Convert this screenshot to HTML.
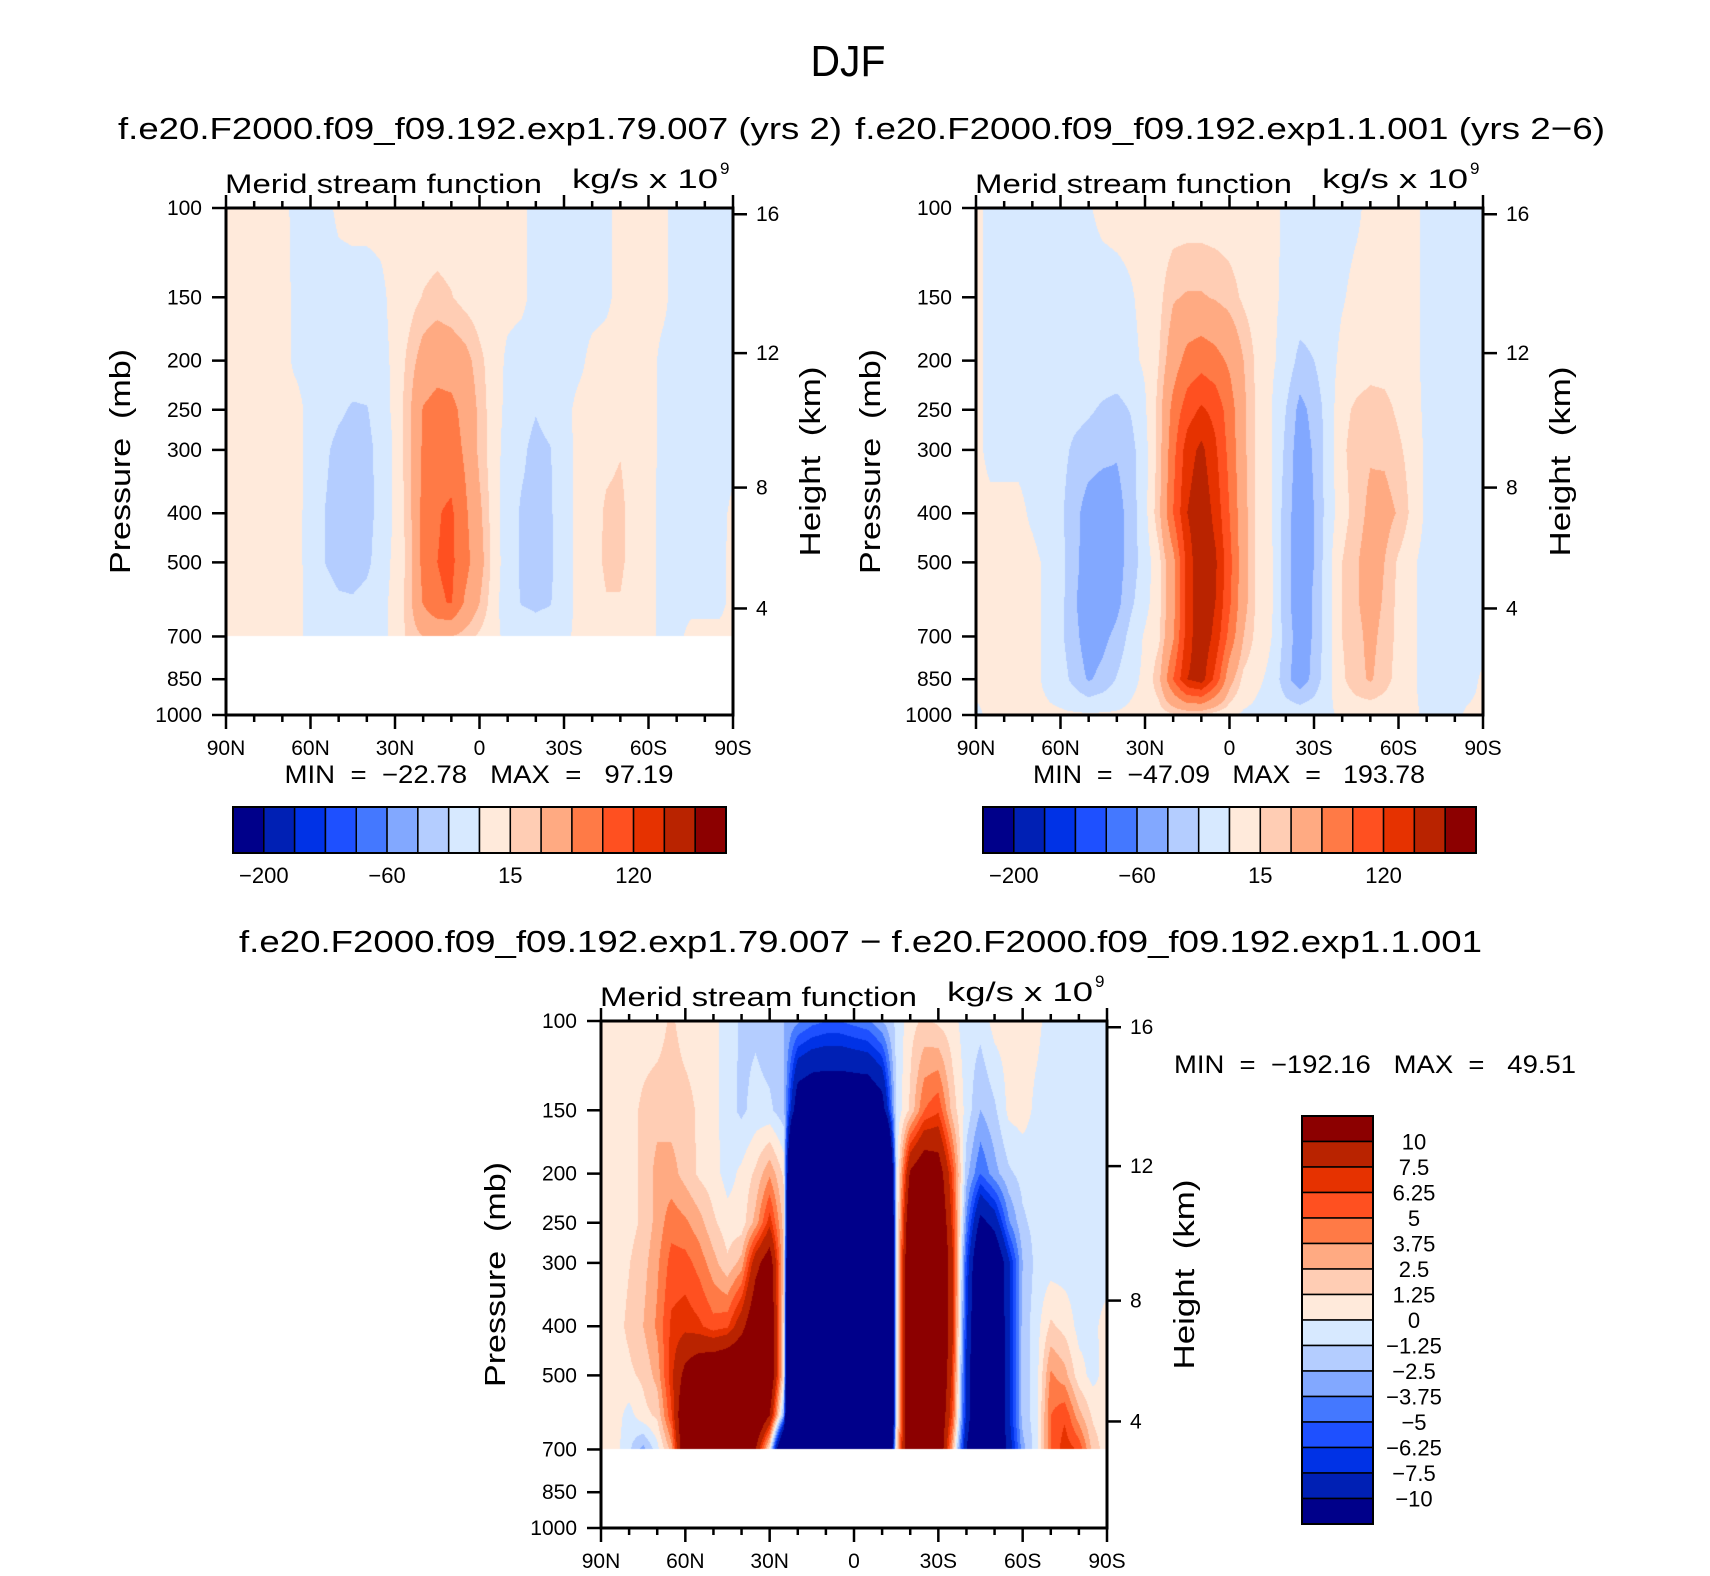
<!DOCTYPE html>
<html><head><meta charset="utf-8">
<style>
html,body{margin:0;padding:0;background:#fff;}
#wrap{position:relative;width:1710px;height:1576px;overflow:hidden;background:#fff;font-family:"Liberation Sans",sans-serif;}
canvas{position:absolute;}
svg{position:absolute;left:0;top:0;}
</style></head>
<body>
<div id="wrap">
<canvas id="cTL"></canvas>
<canvas id="cTR"></canvas>
<canvas id="cB"></canvas>
<svg id="ov" width="1710" height="1576" font-family="Liberation Sans, sans-serif">
<text x="848" y="76" font-size="44" text-anchor="middle" textLength="75" lengthAdjust="spacingAndGlyphs">DJF</text>
<text x="118" y="139" font-size="31" textLength="724" lengthAdjust="spacingAndGlyphs">f.e20.F2000.f09_f09.192.exp1.79.007&#160;(yrs&#160;2)</text>
<text x="855" y="139" font-size="31" textLength="750" lengthAdjust="spacingAndGlyphs">f.e20.F2000.f09_f09.192.exp1.1.001&#160;(yrs&#160;2−6)</text>
<text x="239" y="952" font-size="31" textLength="1243" lengthAdjust="spacingAndGlyphs">f.e20.F2000.f09_f09.192.exp1.79.007&#160;−&#160;f.e20.F2000.f09_f09.192.exp1.1.001</text>
</svg>
</div>
<script>
// ---- shared data ----
const latTickLabels = ["90N","60N","30N","0","30S","60S","90S"];
const pressureTicks = [100,150,200,250,300,400,500,700,850,1000];
const heightTicksKm = [4,8,12,16];
const topLevels = [-200,-150,-120,-90,-60,-30,-15,0,15,30,60,90,120,150,200];
const topLevelLabels = ["-200","-60","15","120"];
const topLabelIdx = [0,4,8,12];
const diffLevels = [-10,-7.5,-6.25,-5,-3.75,-2.5,-1.25,0,1.25,2.5,3.75,5,6.25,7.5,10];
const diffLevelLabels = ["10","7.5","6.25","5","3.75","2.5","1.25","0","−1.25","−2.5","−3.75","−5","−6.25","−7.5","−10"];
const palette = ["#00008a","#0020b4","#0032e6","#1e50ff","#4478ff","#82a8ff","#b4cdff","#d7e9ff","#ffeadb","#ffcdb4","#ffaa82","#ff7a46","#ff5020","#e63200","#b92300","#8c0000"];
const gridLats = Array.from({length:37},(_, i)=>90-5*i);

// ---- top-left panel ----
const tlPressure = [100,150,200,250,300,400,500,600,700,850,1000];
const tlValues = [
[3,3,3,3,3,-3,-3,-3,2,3,3,3,3,3,3,3,3,3,3,3,3,2,-3,-3,-3,-3,-3,-2,3,3,3,2,-3,-3,-3,-3,-3],
[3,3,3,3,3,-2,-4,-4,-4,-4,-4,-2,3,8,16,20,16,8,4,3,3,2,-3,-4,-4,-4,-4,-2,3,3,3,2,-3,-3,-3,-3,-3],
[3,3,3,3,3,-2,-4,-5,-5,-5,-5,-3,2,20,40,48,45,38,20,5,-2,-4,-5,-5,-5,-3,3,4,4,4,3,-2,-3,-3,-3,-3,-3],
[3,3,3,3,3,3,-3,-6,-12,-17,-16,-6,3,25,62,70,68,50,25,5,-3,-8,-14,-8,-4,3,4,5,5,4,3,-2,-3,-3,-3,-3,-3],
[3,3,3,3,3,3,-3,-12,-20,-22,-20,-9,2,25,65,78,75,55,25,5,-5,-12,-20,-16,-5,3,5,10,14,5,3,-2,-3,-3,-3,-3,-3],
[3,3,3,3,3,3,-4,-15,-22,-23,-21,-9,2,22,70,88,95,65,35,6,-8,-17,-20,-17,-6,3,6,18,20,6,3,-3,-3,-3,-3,-3,2],
[3,3,3,3,3,3,-4,-15,-22,-23,-19,-6,3,20,70,90,96,70,40,8,-8,-17,-20,-18,-6,3,8,18,18,8,3,-3,-3,-3,-3,-3,3],
[3,3,3,3,3,3,-3,-6,-12,-13,-9,-3,3,22,62,86,92,55,30,5,-8,-16,-18,-16,-6,3,5,14,14,5,3,-3,-3,-3,-3,-3,3],
[3,3,3,3,3,3,-3,-4,-5,-5,-4,-3,3,20,30,32,30,22,12,3,-3,-5,-8,-6,-3,3,3,3,3,3,3,-3,-3,3,3,3,3],
null,
null
];
const tlMin = "−22.78", tlMax = "97.19";

// ---- top-right panel ----
const trPressure = [100,150,200,250,300,400,500,600,700,850,1000];
const trValues = [
[3,-3,-4,-4,-4,-4,-4,-4,-1,3,4,4,4,4,4,4,4,4,4,4,4,3,-2,-4,-4,-4,-4,-2,3,4,4,3,-3,-3,-3,-3,-3],
[3,-3,-4,-5,-5,-5,-5,-5,-5,-5,-4,-1,3,10,28,32,32,28,22,12,5,2,-2,-5,-6,-5,-1,3,4,4,4,3,-3,-3,-3,-3,-3],
[3,-3,-4,-5,-6,-6,-7,-7,-7,-6,-5,-3,2,15,45,70,78,70,55,30,10,2,-5,-20,-15,-5,3,5,8,8,6,3,-3,-3,-3,-3,-3],
[3,-3,-3,-4,-5,-6,-8,-10,-13,-17,-20,-14,-2,20,70,105,125,110,75,35,10,0,-15,-35,-25,-8,10,18,22,20,12,5,-3,-3,-3,-3,-3],
[3,-3,-3,-3,-4,-6,-10,-18,-22,-25,-28,-20,-5,20,80,135,158,125,80,35,10,0,-18,-40,-28,-8,12,22,28,26,18,8,-3,-3,-3,-3,-3],
[4,3,3,3,-2,-6,-12,-25,-38,-42,-38,-22,-5,25,90,150,175,140,90,38,10,0,-22,-42,-30,-8,8,22,35,38,28,10,-3,-3,-3,-3,-3],
[4,4,4,4,3,-2,-10,-25,-40,-45,-38,-22,-8,10,50,130,180,155,100,40,10,2,-25,-40,-30,-5,15,28,40,30,12,2,-5,-5,-5,-5,-5],
[4,4,4,4,3,-2,-10,-28,-42,-45,-35,-18,-5,10,50,130,180,150,95,38,10,2,-25,-40,-28,-5,15,28,38,28,10,2,-5,-5,-5,-5,-5],
[4,4,4,4,3,-2,-12,-25,-40,-35,-25,-10,2,12,55,135,175,140,80,30,8,0,-20,-40,-28,-5,15,25,35,25,10,2,-5,-5,-5,-5,-5],
[3,3,3,3,3,-2,-8,-20,-32,-25,-14,-4,3,25,90,150,165,110,40,10,2,-3,-25,-40,-25,-4,12,25,32,22,8,2,-5,-5,-5,-4,2],
[-2,2,2,2,2,2,2,2,2,2,2,3,5,8,12,14,12,6,2,-2,-3,-4,-5,-5,-4,-2,2,3,3,3,2,2,-2,-2,-2,2,2]
];
const trMin = "−47.09", trMax = "193.78";

// ---- difference panel ----
const dPressure = [100,150,200,250,300,400,500,600,700,850,1000];
const dValues = [
[0.5,0.5,0.5,0.6,0.6,1.5,0.6,0.5,0.3,-0.5,-1.5,-1.5,-2,-2.5,-3.5,-4.5,-5,-5,-4.5,-4,-2.5,-1,0.8,1.5,1,0.5,-0.7,-0.8,0.5,0.5,0.4,0.3,-0.5,-0.6,-0.6,-0.6,-0.6],
[0.5,0.5,0.8,1.5,2,2,1.8,1,0.5,-0.8,-1.5,-0.8,-1,-2,-13,-14,-14,-14,-14,-14,-12,-1,1.5,5,6,2,-0.5,-2.5,-1.5,0.3,0.5,-0.3,-0.6,-0.6,-0.6,-0.6,-0.6],
[0.5,0.5,0.8,1.5,3,3,2,1,0.5,-0.5,0.3,1.5,3.5,1,-40,-40,-40,-40,-40,-40,-40,-1,10.5,13,12,6,-2,-5,-3,-1.5,-0.8,-0.6,-0.6,-0.6,-0.6,-0.6,-0.6],
[0.5,0.5,0.8,1.5,3,4.5,4,3,1.5,0.5,0.5,3,7,2,-50,-50,-50,-50,-50,-50,-50,-1,14,16,14,7,-4,-11,-9,-4,-1.5,-0.8,-0.6,-0.6,-0.6,-0.6,-0.6],
[0.5,0.6,1.2,2,3.5,5.5,5.5,4.5,3,1.5,3,9,12,2,-60,-60,-60,-60,-60,-60,-55,-1,16,18,15,8,-6,-15,-14,-8,-2.5,-0.8,-0.6,-0.6,-0.6,-0.6,-0.6],
[0.5,0.8,1.5,2.5,4,6.5,7,6.5,5.5,6,9,13,14,1,-60,-60,-60,-60,-60,-60,-55,-1,16,18,15,8,-7,-16,-15,-8,-2,-0.5,1.5,0.8,-0.4,-0.3,0.5],
[0.5,0.6,1,1.5,3,7,11,13,14,15,15,15,14,1,-60,-60,-60,-60,-60,-60,-55,-1,16,18,15,7,-8,-16,-15,-8,-2,-0.5,4,3,0.5,-0.4,0.5],
[0.4,0.6,-0.5,0.8,1.5,6,14,15,15,15,15,15,10,-3,-60,-60,-60,-60,-60,-60,-55,-1,16,18,14,6,-8,-16,-15,-8,-2,-0.5,5,6,3,1,0.5],
[0.4,0.5,-1,-3,-0.5,3,14,15,15,15,15,10,0.5,-20,-60,-60,-60,-60,-60,-55,-40,1,16,18,14,3,-10,-16,-15,-9,-3,-0.5,5,7,6,2,0.5],
null,
null
];
const dMin = "−192.16", dMax = "49.51";

// ---- helpers ----
const NS = "http://www.w3.org/2000/svg";
const ov = document.getElementById("ov");
function mk(tag, attrs, parent){
  const e = document.createElementNS(NS, tag);
  for (const k in attrs) e.setAttribute(k, attrs[k]);
  (parent||ov).appendChild(e);
  return e;
}
function stdPressure(zkm){
  const z = zkm*1000;
  if (z <= 11000) return 1013.25*Math.pow(1-2.25577e-5*z, 5.25588);
  return 226.32*Math.exp(-(z-11000)/6341.6);
}
function colorIndex(v, levels){
  let k = 0;
  while (k < levels.length && v >= levels[k]) k++;
  return k;
}
function hexToRgb(h){return [parseInt(h.substr(1,2),16),parseInt(h.substr(3,2),16),parseInt(h.substr(5,2),16)];}
const palRgb = palette.map(hexToRgb);

function drawField(canvasId, P, V, levels, L, T, W, H){
  const cv = document.getElementById(canvasId);
  cv.width = W; cv.height = H;
  cv.style.left = L+"px"; cv.style.top = T+"px";
  const ctx = cv.getContext("2d");
  const img = ctx.createImageData(W, H);
  const logP = P.map(p=>Math.log(p));
  const nc = gridLats.length - 1;
  for (let py=0; py<H; py++){
    const p = 100*Math.pow(10, (py+0.5)/H);
    const lp = Math.log(p);
    let r = 0;
    while (r < logP.length-2 && lp > logP[r+1]) r++;
    const u = Math.min(1, Math.max(0, (lp-logP[r])/(logP[r+1]-logP[r])));
    const A = V[r], B = V[r+1];
    for (let px=0; px<W; px++){
      const o = (py*W+px)*4;
      if (!A || !B){ img.data[o+3]=0; continue; }
      const lat = 90 - (px+0.5)/W*180;
      const f = (90-lat)/180*nc;
      const c = Math.min(nc-1, Math.floor(f));
      const t = f - c;
      const a = A[c]*(1-t)+A[c+1]*t;
      const val = a*(1-u) + (B[c]*(1-t)+B[c+1]*t)*u;
      const col = palRgb[colorIndex(val, levels)];
      img.data[o]=col[0]; img.data[o+1]=col[1]; img.data[o+2]=col[2]; img.data[o+3]=255;
    }
  }
  ctx.putImageData(img, 0, 0);
}

function drawAxes(prefix, L, T, W, H){
  const g = mk("g", {});
  
  
  const yOf = p => T + H*Math.log10(p/100);
  const xOf = lat => L + (90-lat)/180*W;
  for (let d=0; d<=180; d+=10){
    const x = L + d/180*W;
    const major = d%30===0;
    const len = major?14:7;
    const t1 = mk("line",{x1:x,x2:x,y1:T+H,y2:T+H+len,stroke:"#000","stroke-width":2.5},g);
    
    
    const t2 = mk("line",{x1:x,x2:x,y1:T,y2:T-(major?13:7),stroke:"#000","stroke-width":2.5},g);
    
    
  }
  latTickLabels.forEach((lab,i)=>{
    const x = xOf(90 - i*30);
    const t = mk("text",{x:x,y:T+H+40,"font-size":21,"text-anchor":"middle"},g);
    t.textContent = lab;
    
    
  });
  pressureTicks.forEach(p=>{
    const y = yOf(p);
    const ln = mk("line",{x1:L-14,x2:L,y1:y,y2:y,stroke:"#000","stroke-width":2.5},g);
    
    
    const t = mk("text",{x:L-24,y:y+7,"font-size":21,"text-anchor":"end"},g);
    t.textContent = String(p);
    
    
  });
  heightTicksKm.forEach(z=>{
    const y = yOf(stdPressure(z));
    const ln = mk("line",{x1:L+W,x2:L+W+14,y1:y,y2:y,stroke:"#000","stroke-width":2.5},g);
    
    
    const t = mk("text",{x:L+W+23,y:y+7,"font-size":21},g);
    t.textContent = String(z);
    
    
  });
  const fr = mk("rect",{x:L,y:T,width:W,height:H,fill:"none",stroke:"#000","stroke-width":3},g);
  
  
  const yl = mk("text",{x:0,y:0,"font-size":29,"text-anchor":"middle",transform:`translate(${L-96},${T+H*0.5}) rotate(-90)`,textLength:225,lengthAdjust:"spacingAndGlyphs"},g);
  yl.textContent = "Pressure\u00a0\u00a0(mb)";
  
  
  const yr = mk("text",{x:0,y:0,"font-size":29,"text-anchor":"middle",transform:`translate(${L+W+87},${T+H*0.5}) rotate(-90)`,textLength:190,lengthAdjust:"spacingAndGlyphs"},g);
  yr.textContent = "Height\u00a0\u00a0(km)";
  
  
  const lt = mk("text",{x:L-1,y:T-15,"font-size":27,textLength:317,lengthAdjust:"spacingAndGlyphs"},g);
  lt.textContent = "Merid\u00a0stream\u00a0function";
  
  
  const ut = mk("text",{x:L+346,y:T-20,"font-size":27,textLength:146,lengthAdjust:"spacingAndGlyphs"},g);
  ut.textContent = "kg/s\u00a0x\u00a010";
  
  
  const sp = mk("text",{x:L+494,y:T-34,"font-size":17},g);
  sp.textContent = "9";
  
  
}

function minMax(prefix, x, y, len, mn, mx, anchor){
  const t = mk("text",{x:x,y:y,"font-size":25,"text-anchor":anchor,textLength:len,lengthAdjust:"spacingAndGlyphs"});
  t.textContent = "MIN\u00a0\u00a0=\u00a0\u00a0" + mn + "\u00a0\u00a0\u00a0MAX\u00a0\u00a0=\u00a0\u00a0\u00a0" + mx;
  
  
}

function hColorbar(prefix, L, T, W, H){
  const g = mk("g",{});
  
  
  const bw = W/palette.length;
  palette.forEach((c,i)=>{
    const r = mk("rect",{x:L+i*bw,y:T,width:bw,height:H,fill:c,stroke:"#000","stroke-width":1.5},g);
    
    
  });
  const fr = mk("rect",{x:L,y:T,width:W,height:H,fill:"none",stroke:"#000","stroke-width":2},g);
  
  
  topLevelLabels.forEach((lab,k)=>{
    const t = mk("text",{x:L+(topLabelIdx[k]+1)*bw,y:T+H+30,"font-size":22,"text-anchor":"middle"},g);
    t.textContent = lab.replace("-","−");
    
    
  });
}

function vColorbar(L, T, W, H){
  const g = mk("g",{});
  
  
  const bh = H/palette.length;
  for (let i=0;i<palette.length;i++){
    const c = palette[palette.length-1-i];
    const r = mk("rect",{x:L,y:T+i*bh,width:W,height:bh,fill:c,stroke:"#000","stroke-width":1.5},g);
    
    
  }
  const fr = mk("rect",{x:L,y:T,width:W,height:H,fill:"none",stroke:"#000","stroke-width":2},g);
  
  
  diffLevelLabels.forEach((lab,i)=>{
    const t = mk("text",{x:L+W+41,y:T+(i+1)*bh+8,"font-size":22,"text-anchor":"middle"},g);
    t.textContent = lab;
    
    
  });
}

// ---- render ----
drawField("cTL", tlPressure, tlValues, topLevels, 226, 208, 507, 507);
drawField("cTR", trPressure, trValues, topLevels, 976, 208, 507, 507);
drawField("cB", dPressure, dValues, diffLevels, 601, 1021, 506, 507);
drawAxes("top-left", 226, 208, 507, 507);
drawAxes("top-right", 976, 208, 507, 507);
drawAxes("difference", 601, 1021, 506, 507);
minMax("top-left", 479, 783, 389, tlMin, tlMax, "middle");
minMax("top-right", 1229, 783, 392, trMin, trMax, "middle");
minMax("difference", 1174, 1073, 402, dMin, dMax, "start");
hColorbar("top-left", 233, 807, 493, 46);
hColorbar("top-right", 983, 807, 493, 46);
vColorbar(1302, 1116, 71, 408);
</script>
</body></html>
